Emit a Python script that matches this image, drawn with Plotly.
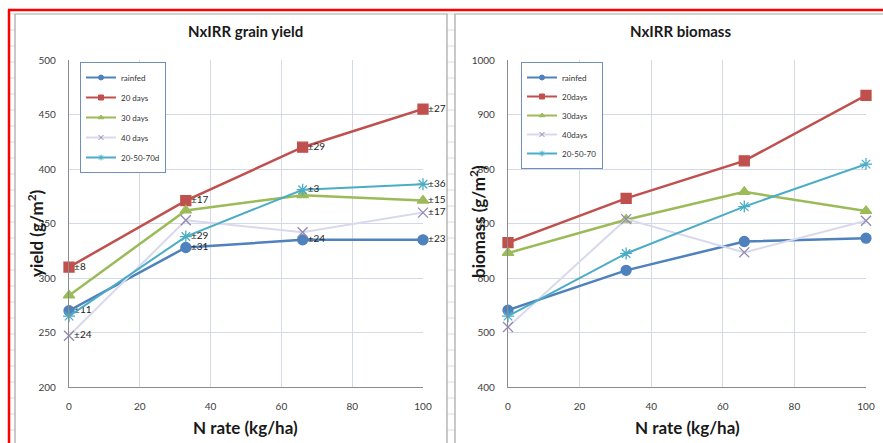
import plotly.graph_objects as go

# ---------------- data ----------------
n_rate = [0, 33, 66, 100]

series_names_yield = ["rainfed", "20 days", "30 days", "40 days", "20-50-70d"]
series_names_bio = ["rainfed", "20days", "30days", "40days", "20-50-70"]

yield_rainfed = [270, 328, 335, 335]
yield_20 = [310, 371, 420, 455]
yield_30 = [284, 362, 376, 371]
yield_40 = [247, 353, 342, 360]
yield_205070 = [265, 338, 381, 386]

yield_lbl_rainfed = ["±11", "±31", "±24", "±23"]
yield_lbl_20 = ["±8", "±17", "±29", "±27"]
yield_lbl_30 = ["", "", "", "±15"]
yield_lbl_40 = ["±24", "", "", "±17"]
yield_lbl_205070 = ["", "±29", "±3", "±36"]

bio_rainfed = [541, 614, 667, 673]
bio_20 = [665, 746, 815, 935]
bio_30 = [646, 707, 758, 723]
bio_40 = [510, 708, 647, 705]
bio_205070 = [530, 645, 731, 809]

yield_ticks = [200, 250, 300, 350, 400, 450, 500]
bio_ticks = [400, 500, 600, 700, 800, 900, 1000]
x_ticks = [0, 20, 40, 60, 80, 100]

# ---------------- styles ----------------
W, H = 883, 443
FONT = "Lato"
colors = ["#4F81BD", "#C0504D", "#9BBB59", "#D9D9EE", "#4BACC6"]
mcolors = ["#4F81BD", "#C0504D", "#9BBB59", "#9487B5", "#4BACC6"]
symbols = ["circle", "square", "triangle-up", "x-thin-open", "asterisk-open"]
msizes = [10, 10, 10, 10, 10]
lwidths = [2.5, 2.5, 2.5, 2, 2]
NB = "\u00a0"


def px_x(p):
    return p / W


def px_y(p):
    return 1 - p / H


fig = go.Figure()

yield_series = [yield_rainfed, yield_20, yield_30, yield_40, yield_205070]
yield_labels = [yield_lbl_rainfed, yield_lbl_20, yield_lbl_30, yield_lbl_40, yield_lbl_205070]
bio_series = [bio_rainfed, bio_20, bio_30, bio_40, bio_205070]


def add_series(name, xs, ys, i, xa, ya, leg, grp):
    fig.add_trace(go.Scatter(
        x=xs, y=ys, name=name, mode="lines+markers",
        line=dict(color=colors[i], width=lwidths[i]),
        marker=dict(symbol=symbols[i], size=msizes[i], color=mcolors[i],
                    line=dict(color=mcolors[i], width=1.3)),
        cliponaxis=False, xaxis=xa, yaxis=ya, showlegend=False,
        legendgroup=grp,
    ))
    # legend key with the small Excel-like marker (no data of its own)
    fig.add_trace(go.Scatter(
        x=[None], y=[None], name=name, mode="lines+markers",
        line=dict(color=colors[i], width=2),
        marker=dict(symbol=symbols[i], size=5, color=mcolors[i],
                    line=dict(color=mcolors[i], width=1)),
        xaxis=xa, yaxis=ya, legend=leg, legendgroup=grp, showlegend=True,
    ))


for i, (name, ys, lbl) in enumerate(zip(series_names_yield, yield_series, yield_labels)):
    add_series(name, n_rate, ys, i, "x", "y", "legend", "a%d" % i)
    lx = [x for x, t in zip(n_rate, lbl) if t]
    ly = [y for y, t in zip(ys, lbl) if t]
    lt = [NB * 2 + t for t in lbl if t]
    fig.add_trace(go.Scatter(
        x=lx, y=ly, text=lt, mode="text", textposition="middle right",
        textfont=dict(family=FONT, size=10, color="#222222"),
        cliponaxis=False, xaxis="x", yaxis="y", showlegend=False,
        hoverinfo="skip",
    ))

for i, (name, ys) in enumerate(zip(series_names_bio, bio_series)):
    add_series(name, n_rate, ys, i, "x2", "y2", "legend2", "b%d" % i)

ydom = [px_y(387), px_y(60)]
axis_common = dict(
    showgrid=True, gridcolor="#D3DAE6", gridwidth=1,
    showline=True, linecolor="#8C8C8C", linewidth=1.3,
    ticks="", tickfont=dict(family=FONT, size=10, color="#404040"),
    zeroline=False, fixedrange=True, automargin=False,
)

fig.update_layout(
    width=W, height=H,
    margin=dict(l=0, r=0, t=0, b=0, pad=0, autoexpand=False),
    paper_bgcolor="white", plot_bgcolor="white",
    font=dict(family=FONT),
    xaxis=dict(domain=[px_x(69), px_x(423)], range=[0, 100], tickvals=x_ticks,
               anchor="y", ticklabelstandoff=10, **axis_common),
    yaxis=dict(domain=ydom, range=[200, 500], tickvals=yield_ticks, anchor="x",
               ticklabelstandoff=10, **axis_common),
    xaxis2=dict(domain=[px_x(508), px_x(866)], range=[0, 100], tickvals=x_ticks,
                anchor="y2", ticklabelstandoff=10, **axis_common),
    yaxis2=dict(domain=ydom, range=[400, 1000], tickvals=bio_ticks, anchor="x2",
                ticklabelstandoff=10, **axis_common),
    showlegend=True,
    legend=dict(x=px_x(80), y=px_y(62), xanchor="left", yanchor="top",
                bgcolor="white", bordercolor="#6F8FBF", borderwidth=1,
                font=dict(family=FONT, size=8, color="#333333"),
                tracegroupgap=1, itemwidth=30),
    legend2=dict(x=px_x(521), y=px_y(62), xanchor="left", yanchor="top",
                 bgcolor="white", bordercolor="#6F8FBF", borderwidth=1,
                 font=dict(family=FONT, size=8, color="#333333"),
                 tracegroupgap=0, itemwidth=30),
)

shapes = []
# spreadsheet background strip between the charts and at the far left
for yy in range(14, 443, 16):
    shapes.append(dict(type="line", xref="paper", yref="paper",
                       x0=px_x(447), x1=px_x(455), y0=px_y(yy), y1=px_y(yy),
                       line=dict(color="#DADCE0", width=1)))
    shapes.append(dict(type="line", xref="paper", yref="paper",
                       x0=px_x(10), x1=px_x(15), y0=px_y(yy), y1=px_y(yy),
                       line=dict(color="#DADCE0", width=1)))
# chart frames
shapes.append(dict(type="rect", xref="paper", yref="paper",
                   x0=px_x(15), x1=px_x(447), y0=px_y(445), y1=px_y(14),
                   line=dict(color="#A6A6A6", width=1.2)))
shapes.append(dict(type="rect", xref="paper", yref="paper",
                   x0=px_x(455), x1=px_x(890), y0=px_y(445), y1=px_y(14),
                   line=dict(color="#A6A6A6", width=1.2)))
# red selection border
shapes.append(dict(type="line", xref="paper", yref="paper",
                   x0=px_x(8), x1=px_x(883), y0=px_y(10), y1=px_y(10),
                   line=dict(color="#FF0000", width=2.5)))
shapes.append(dict(type="line", xref="paper", yref="paper",
                   x0=px_x(9), x1=px_x(9), y0=px_y(10), y1=px_y(443),
                   line=dict(color="#FF0000", width=2.5)))
fig.update_layout(shapes=shapes)


def label(text, x, y, size, angle=0):
    return dict(text=text, x=px_x(x), y=px_y(y), xref="paper", yref="paper",
                xanchor="center", yanchor="middle", showarrow=False,
                textangle=angle, font=dict(family=FONT, size=size, color="#1a1a1a"))


ann = [
    label("<b>NxIRR grain yield</b>", 246, 31, 15),
    label("<b>NxIRR biomass</b>", 680, 31, 15),
    label("<b>N rate (kg/ha)</b>", 246, 427, 17),
    label("<b>N rate (kg/ha)</b>", 687, 427, 17),
    label("<b>yield (g/m<sup>2</sup>)</b>", 36, 233, 17, -90),
    label("<b>biomass (g/m<sup>2</sup>)</b>", 477, 222, 17, -90),
]
fig.update_layout(annotations=ann)

fig.write_html("out.html")
